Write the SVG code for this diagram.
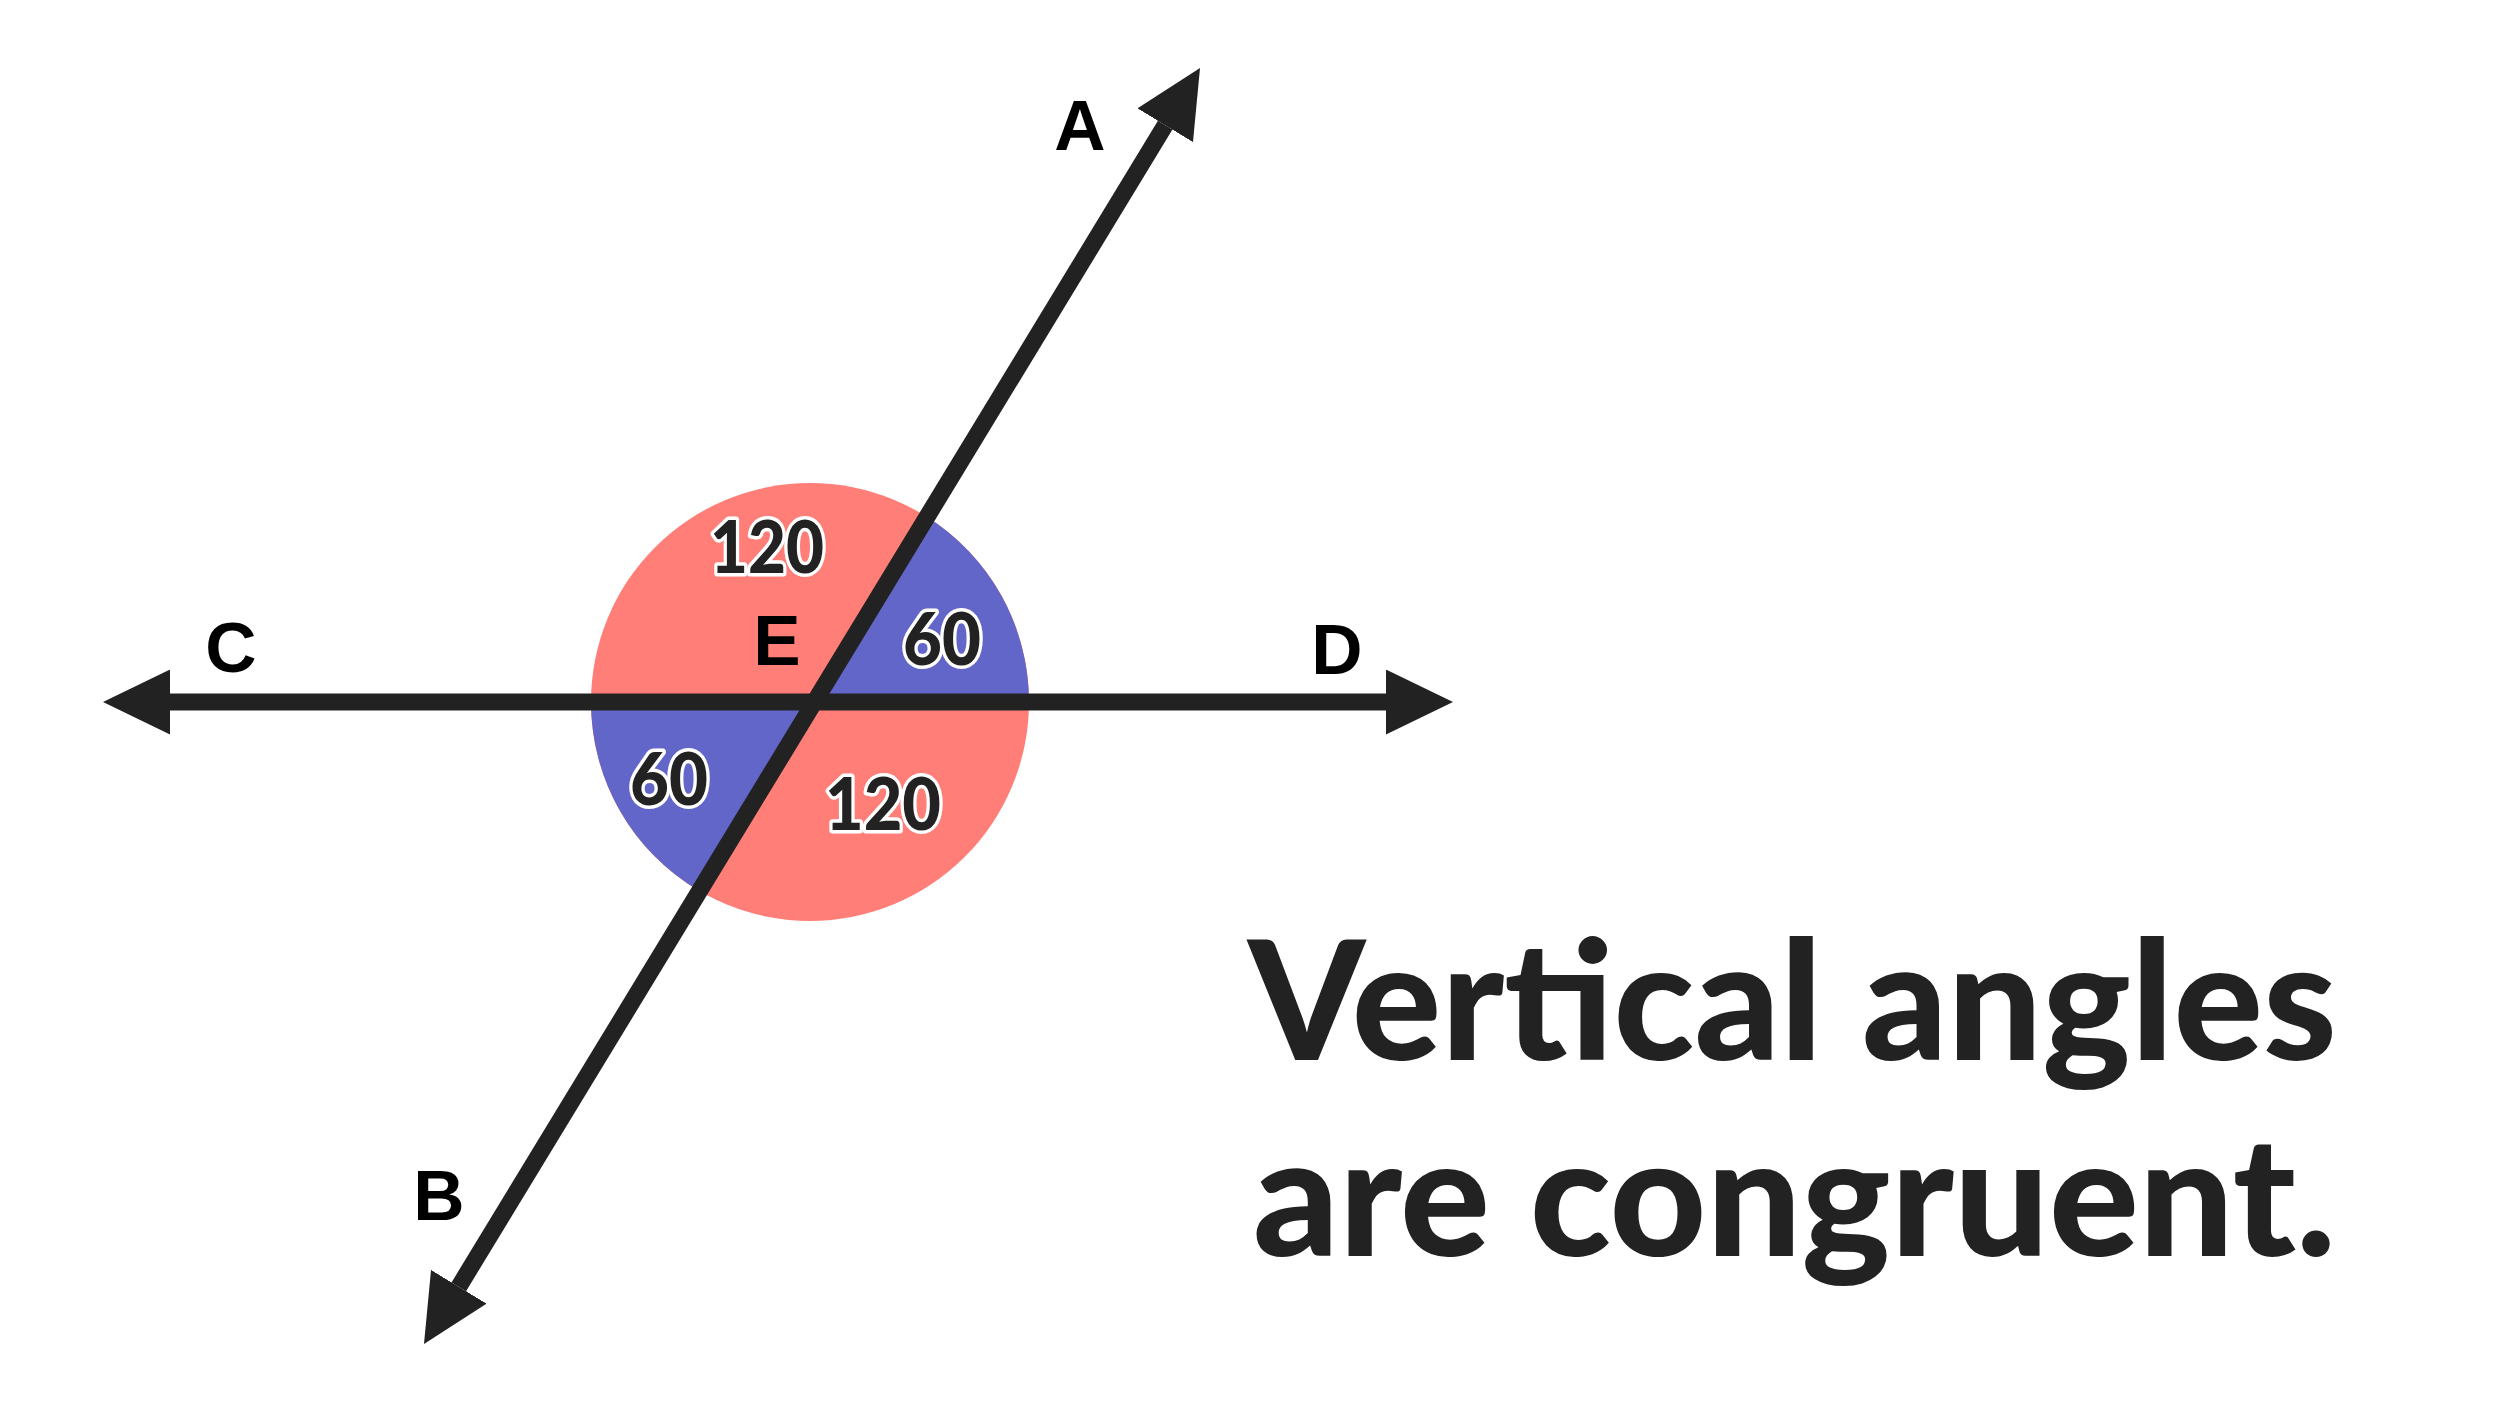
<svg xmlns="http://www.w3.org/2000/svg" width="2500" height="1406" viewBox="0 0 2500 1406">
<style>
.ln{stroke:#222222;stroke-width:17;fill:none;marker-start:url(#arr);marker-end:url(#arr)}
.lbl{font-family:"Liberation Sans",Arial,sans-serif;font-weight:bold;font-size:71px;fill:#000;text-anchor:middle}
.num{font-family:Lato,"Open Sans",sans-serif;font-weight:900;font-size:72px;fill:#222222;stroke:#ffffff;stroke-width:7;stroke-linejoin:round;paint-order:stroke;text-anchor:middle}
.title{font-family:Lato,"Open Sans",sans-serif;font-weight:900;font-size:166px;fill:#222222}
</style>
<defs>
<marker id="arr" viewBox="0 -32.5 67 65" refX="0" refY="0" markerWidth="67" markerHeight="65" markerUnits="userSpaceOnUse" orient="auto-start-reverse">
<path d="M0,-32.5 L67,0 L0,32.5 Z" fill="#222222"/>
</marker>
</defs>
<rect width="2500" height="1406" fill="#ffffff"/>
<g id="angle-disc">
<circle cx="810" cy="702" r="219" fill="#FF7F78"/>
<path d="M813,702 L925.96,516.25 A219,219 0 0 1 1029,702 Z" fill="#6366C9"/>
<path d="M813,702 L698.4,890.4 A219,219 0 0 1 591,702 Z" fill="#6366C9"/>
</g>
<g id="connectors">
<line class="ln" x1="170" y1="702" x2="1386" y2="702"/>
<line class="ln" x1="458.8" y1="1286.8" x2="1165.2" y2="125.2"/>
</g>
<g id="point-labels">
<text id="label-A" class="lbl" x="1080" y="150">A</text>
<text id="label-B" class="lbl" x="439" y="1220">B</text>
<text id="label-C" class="lbl" x="231" y="672">C</text>
<text id="label-D" class="lbl" x="1337" y="674">D</text>
<text id="label-E" class="lbl" x="777" y="665">E</text>
</g>
<g id="angle-labels">
<text id="angle-top" class="num" x="767" y="573" textLength="114" lengthAdjust="spacingAndGlyphs">120</text>
<text id="angle-right" class="num" x="942" y="665" textLength="78" lengthAdjust="spacingAndGlyphs">60</text>
<text id="angle-left" class="num" x="669" y="805" textLength="78" lengthAdjust="spacingAndGlyphs">60</text>
<text id="angle-bottom" class="num" x="883" y="830" textLength="116" lengthAdjust="spacingAndGlyphs">120</text>
</g>
<g id="caption">
<text class="title" x="1248" y="1060" textLength="1089" lengthAdjust="spacingAndGlyphs">Vertical angles</text>
<text class="title" x="1253" y="1256" textLength="1083" lengthAdjust="spacingAndGlyphs">are congruent.</text>
</g>
</svg>
